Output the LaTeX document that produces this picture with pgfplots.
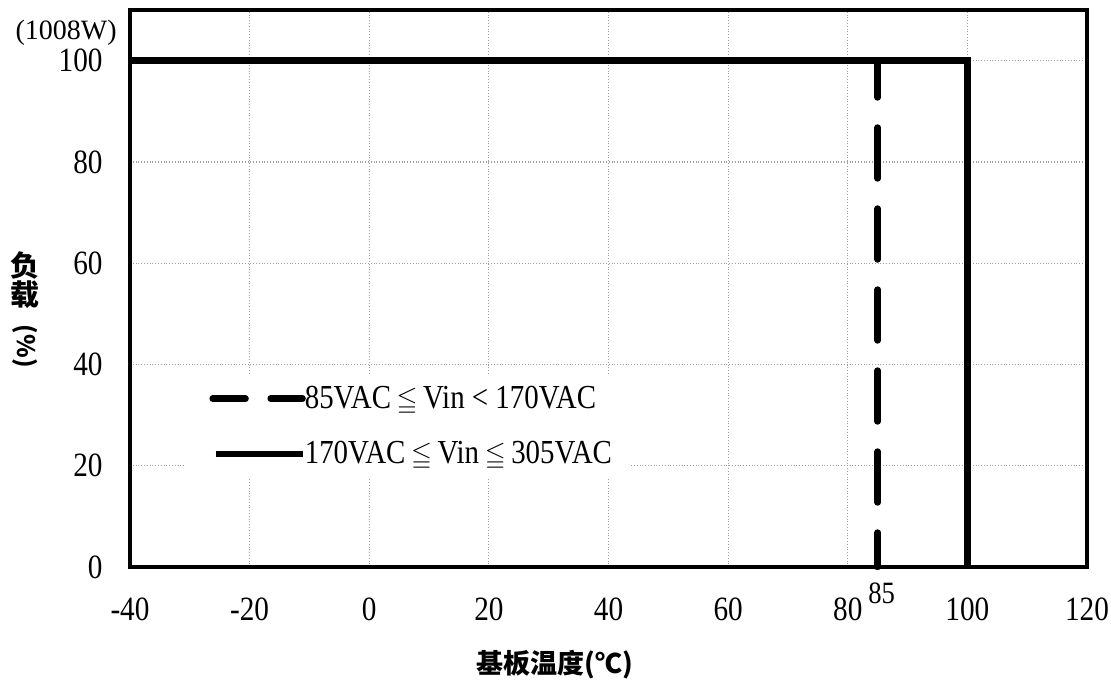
\documentclass[border=0pt]{standalone}
\usepackage{amssymb}
\usepackage{graphicx}
\usepackage{fontspec}
\setmainfont{Liberation Serif}[FakeStretch=0.86]
\newfontfamily\plainfont{Liberation Serif}
\newfontfamily\cjk{Noto Sans CJK SC}
\usepackage{pgfplots}
\pgfplotsset{compat=1.18}
\newcommand{\myleqq}{\,\scalebox{0.8}{$\leqq$}\,}
\begin{document}
\begin{tikzpicture}
\useasboundingbox (0,0) rectangle (555.5pt,341pt);
\begin{axis}[
  at={(65pt,57.5pt)}, anchor=south west,
  scale only axis, width=478.5pt, height=278.5pt,
  xmin=-40, xmax=120, ymin=0, ymax=110,
  clip=false,
  xtick={-40,-20,0,20,40,60,80,100,120},
  xticklabels={-40,-20,0,20,40,60,80,100,120},
  ytick={0,20,40,60,80,100},
  yticklabels={0,20,40,60,80,100},
  major tick length=0pt,
  tick label style={font=\fontsize{17}{19}\selectfont, inner sep=0pt},
  xticklabel style={anchor=north, yshift=-15pt},
  yticklabel style={anchor=east, xshift=-13.5pt},
  grid=major,
  major grid style={densely dotted, gray!75, line width=0.6pt},
  axis line style={line width=2pt},
  legend cell align=left,
  legend style={at={(axis cs:-30.8,38.2)}, anchor=north west, draw=none, fill=white,
    inner xsep=8pt, inner ysep=5pt, row sep=13pt,
    font=\fontsize{16.8}{18}\selectfont, nodes={inner sep=1pt}},
]
\addplot[black, line width=3.2pt, line cap=round,
  dash pattern=on 25.5pt off 15pt, dash phase=8.25pt,
  legend image code/.code={\path (-4pt,0pt); \draw[line width=3.2pt, black] (0pt,0pt) -- (16.5pt,0pt) (29pt,0pt) -- (45pt,0pt);}]
  coordinates {(85,0) (85,100) (-40,100)};
\addlegendentry{\hspace{-1.5pt}85VAC\myleqq Vin < 170VAC}
\addplot[black, line width=3.2pt, line join=miter,
  legend image code/.code={\path (-4pt,0pt); \draw[line width=3.2pt, black] (1.5pt,0pt) -- (45pt,0pt);}]
  coordinates {(-40,100) (100,100) (100,0)};
\addlegendentry{\hspace{-1.5pt}170VAC\myleqq Vin\myleqq 305VAC}
\node[anchor=east, inner sep=0pt, xshift=-6.5pt, font=\plainfont\fontsize{14}{16}\selectfont] at (axis cs:-40,105.6) {(1008W)};
\node[anchor=north, inner sep=0pt, xshift=2pt, yshift=-7.5pt, font=\fontsize{15.5}{17}\selectfont] at (axis cs:85,0) {85};
\end{axis}
\node[font=\cjk\bfseries\fontsize{14.5}{14.5}\selectfont, align=center, inner sep=0pt] at (12.5pt,186pt) {负\\载\\[-5pt]\rotatebox{-90}{\fontsize{12}{12}\selectfont(\%)}};
\node[font=\cjk\bfseries\fontsize{13.5}{14}\selectfont, inner sep=0pt] at (277.5pt,8.5pt) {基板温度(℃)};
\end{tikzpicture}
\end{document}
